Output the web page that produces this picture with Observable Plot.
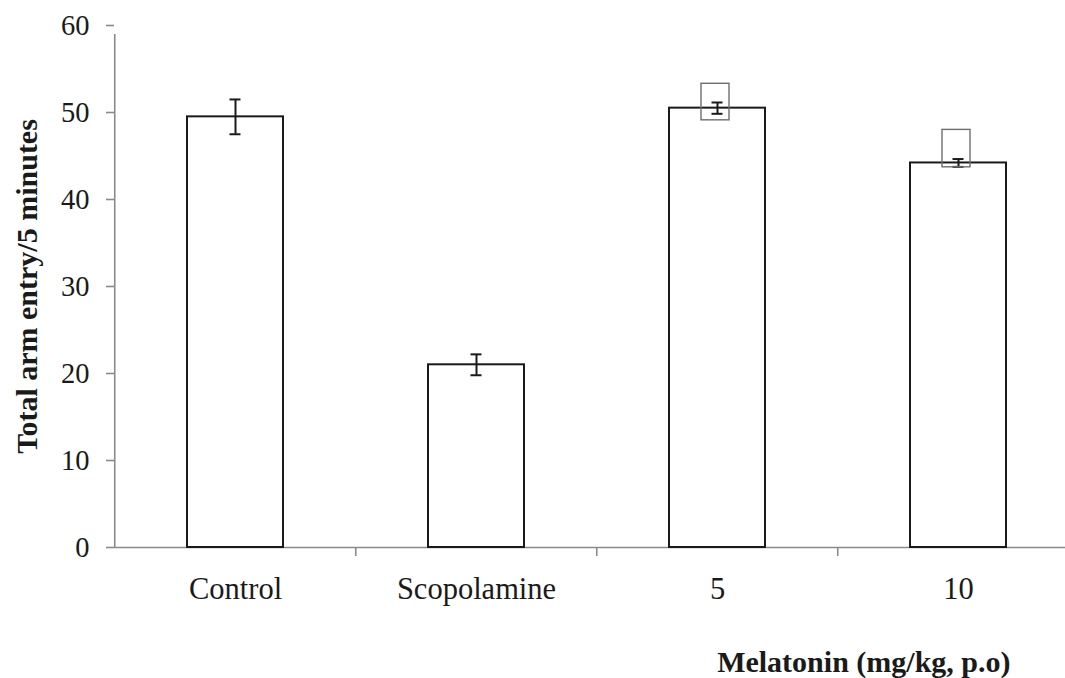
<!DOCTYPE html>
<html>
<head>
<meta charset="utf-8">
<script src="https://cdn.jsdelivr.net/npm/d3@7"></script>
<script src="https://cdn.jsdelivr.net/npm/@observablehq/plot@0.6"></script>
<style>
  html, body { margin: 0; padding: 0; background: #fff; }
  #chart { width: 1065px; height: 678px; }
</style>
</head>
<body>
<div id="chart"></div>
<script>
// ---- data ----
const groups = ["Control", "Scopolamine", "5", "10"];
const means = [49.5, 21.0, 50.5, 44.2];
const sems = [2.0, 1.2, 0.65, 0.45];
// empty marker boxes drawn above the melatonin bars (symbol placeholders)
const markerLow = [null, null, 49.1, 43.7];
const markerHigh = [null, null, 53.3, 48.0];
const yTicks = [0, 10, 20, 30, 40, 50, 60];
const yTitle = "Total arm entry/5 minutes";
const xTitle = "Melatonin (mg/kg, p.o)";

const data = groups.map((g, i) => ({group: g, mean: means[i], lo: means[i] - sems[i], hi: means[i] + sems[i]}));
const markers = groups
  .map((g, i) => ({group: g, lo: markerLow[i], hi: markerHigh[i]}))
  .filter(d => d.lo != null);

const W = 1065, H = 678;
const xRange = [114, 1080];
const step = (xRange[1] - xRange[0]) / groups.length;
const axisColor = "#8a8a8a";
const ink = "#1a1a1a";

const chart = Plot.plot({
  width: W,
  height: H,
  marginTop: 25,
  marginBottom: 131,
  marginLeft: 114,
  marginRight: 0,
  style: {fontFamily: "'Liberation Serif', 'Times New Roman', serif", background: "#fff", color: ink},
  x: {type: "band", domain: groups, range: xRange, paddingInner: 0.6, paddingOuter: 0.3},
  y: {domain: [0, 60]},
  marks: [
    // x axis line
    Plot.ruleY([0], {stroke: axisColor, strokeWidth: 1.6}),
    // y axis line (at left boundary of first band) and boundary ticks below the x axis
    Plot.ruleX(groups.slice(0, 1), {x: d => d, y1: 0, y2: 60, dx: -step / 2, insetBottom: -9, stroke: axisColor, strokeWidth: 1.6}),
    Plot.ruleX(groups.slice(1), {x: d => d, y1: 0, y2: 0, dx: -step / 2, insetBottom: -9, stroke: axisColor, strokeWidth: 1.6}),
    Plot.axisY({ticks: yTicks, tickSize: 8, tickPadding: 17, fontSize: 28.5, stroke: axisColor, strokeWidth: 1.6, fill: ink, label: null}),
    Plot.axisX({tickSize: 0, tickPadding: 30, fontSize: 30.5, fill: ink, label: null}),
    // bars
    Plot.barY(data, {x: "group", y: "mean", fill: "white", stroke: ink, strokeWidth: 2}),
    // error bars
    Plot.ruleX(data, {x: "group", y1: "lo", y2: "hi", stroke: ink, strokeWidth: 2}),
    Plot.tickY(data, {x: "group", y: "lo", insetLeft: 42.5, insetRight: 42.5, stroke: ink, strokeWidth: 2}),
    Plot.tickY(data, {x: "group", y: "hi", insetLeft: 42.5, insetRight: 42.5, stroke: ink, strokeWidth: 2}),
    // marker boxes
    Plot.barY(markers, {x: "group", y1: "lo", y2: "hi", insetLeft: 32, insetRight: 36, fill: "none", stroke: "#6e6e6e", strokeWidth: 1.4}),
    // axis titles
    Plot.text([yTitle], {frameAnchor: "left", textAnchor: "middle", dx: -87, rotate: -90, fontSize: 30, fontWeight: "bold", fill: ink}),
    Plot.text([xTitle], {frameAnchor: "bottom-right", textAnchor: "end", lineAnchor: "middle", dx: -55, dy: 115, fontSize: 30, fontWeight: "bold", fill: ink})
  ]
});
document.getElementById("chart").appendChild(chart);
</script>
</body>
</html>
